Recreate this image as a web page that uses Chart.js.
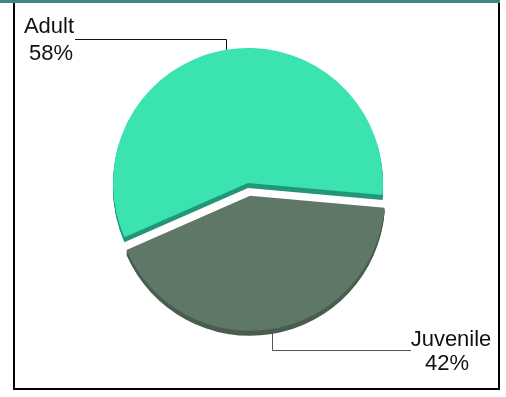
<!DOCTYPE html>
<html>
<head>
<meta charset="utf-8">
<script src="https://cdn.jsdelivr.net/npm/chart.js@4.4.0/dist/chart.umd.min.js"></script>
<style>
  html, body { margin: 0; padding: 0; background: #fff; }
  #wrap { position: relative; width: 506px; height: 397px; overflow: hidden; }
  #wrap canvas { position: absolute; left: 0; top: 0; }
  .topbar { position: absolute; left: 0; top: 0; width: 500px; height: 3px; background: #428282; }
  .frame { position: absolute; left: 13px; top: 0; width: 483px; height: 388px; border: 2px solid #000; border-top: 0; }
</style>
</head>
<body>
<div id="wrap">
  <canvas id="agePie" width="506" height="397"></canvas>
  <div class="frame"></div>
  <div class="topbar"></div>
</div>
<script>
const categories = ['Adult', 'Juvenile'];
const shares = [58, 42];

// pull a slice out along its mid angle, keeping its radius
const explode = {
  id: 'explode',
  afterDatasetUpdate(chart, args, opts) {
    args.meta.data.forEach((el, i) => {
      const d = opts.by[i] || 0;
      if (!d) return;
      const mid = (el.startAngle + el.endAngle) / 2;
      el.x += Math.cos(mid) * d;
      el.y += Math.sin(mid) * d;
    });
  }
};

// draws the pie's thickness: a darker copy of each slice, stacked below it
const pie3d = {
  id: 'pie3d',
  beforeDatasetsDraw(chart, args, opts) {
    const ctx = chart.ctx;
    chart.getDatasetMeta(0).data.forEach((el, i) => {
      const side = Object.create(el);
      side.options = Object.assign({}, el.options, { backgroundColor: opts.sideColors[i], borderWidth: 0 });
      for (let d = opts.depth; d >= 1; d--) {
        ctx.save();
        ctx.translate(0, d);
        side.draw(ctx);
        ctx.restore();
      }
    });
  }
};

// elbow leader lines + category / percent labels
const leaders = {
  id: 'leaders',
  afterDatasetsDraw(chart, args, opts) {
    const ctx = chart.ctx;
    const total = shares.reduce((a, b) => a + b, 0);
    chart.getDatasetMeta(0).data.forEach((el, i) => {
      const spot = opts.spots[i];
      const mid = (el.startAngle + el.endAngle) / 2;
      const px = Math.round(el.x + Math.cos(mid) * el.outerRadius) + 0.5;
      const py = el.y + Math.sin(mid) * el.outerRadius;

      ctx.save();
      ctx.strokeStyle = spot.lineColor;
      ctx.lineWidth = 1;
      ctx.beginPath();
      ctx.moveTo(px, py);
      ctx.lineTo(px, spot.lineY + 0.5);
      ctx.lineTo(spot.endX, spot.lineY + 0.5);
      ctx.stroke();

      ctx.fillStyle = '#111';
      ctx.font = '22px "Liberation Sans", Arial, sans-serif';
      ctx.textAlign = 'center';
      ctx.textBaseline = 'alphabetic';
      ctx.fillText(categories[i], spot.nameX, spot.nameY);
      ctx.fillText(Math.round(shares[i] / total * 100) + '%', spot.pctX, spot.pctY);
      ctx.restore();
    });
  }
};

new Chart(document.getElementById('agePie').getContext('2d'), {
  type: 'pie',
  data: {
    labels: categories,
    datasets: [{
      data: shares,
      backgroundColor: ['#3ae3b0', '#5f7767'],
      borderWidth: 0
    }]
  },
  options: {
    responsive: false,
    animation: false,
    events: [],
    radius: 135,
    rotation: 246.3,
    layout: { padding: { left: 0, right: 10, top: 0, bottom: 31 } },
    plugins: {
      legend: { display: false },
      tooltip: { enabled: false },
      explode: { by: [0, 13] },
      pie3d: { depth: 5, sideColors: ['#22977a', '#4a5d50'] },
      leaders: {
        spots: [
          { lineY: 39, endX: 75, lineColor: '#111', nameX: 49, nameY: 33, pctX: 51, pctY: 60 },
          { lineY: 350, endX: 411, lineColor: '#555', nameX: 451, nameY: 346, pctX: 447, pctY: 370 }
        ]
      }
    }
  },
  plugins: [explode, pie3d, leaders]
});
</script>
</body>
</html>
